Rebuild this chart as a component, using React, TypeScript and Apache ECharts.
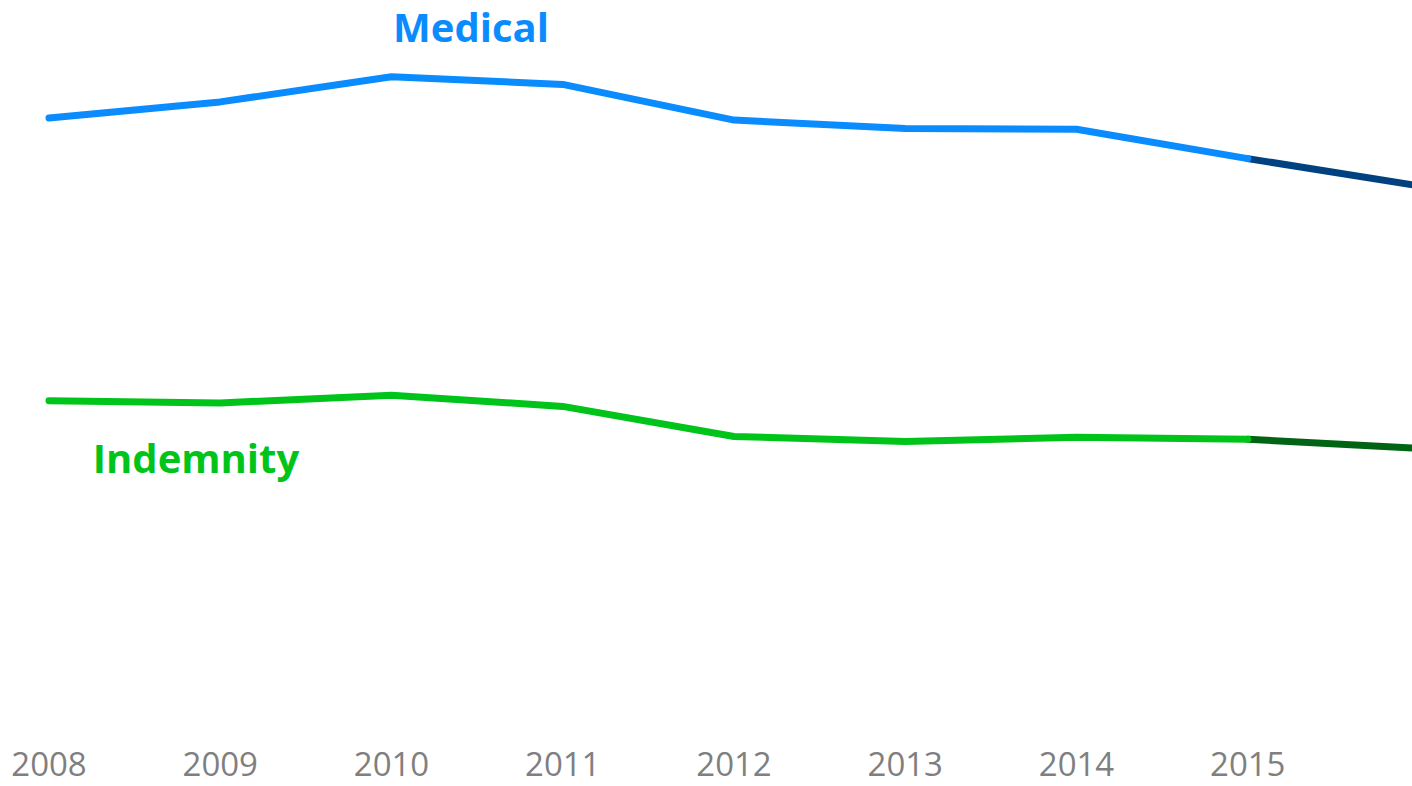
import React, { useEffect, useRef } from "react";
import * as echarts from "echarts";

const years = ["2008", "2009", "2010", "2011", "2012", "2013", "2014", "2015", "2016"];
const medicalActual = [86.0, 88.3, 91.9, 90.8, 85.7, 84.5, 84.4, 80.2, null];
const medicalProjected = [null, null, null, null, null, null, null, 80.2, 76.3];
const indemnityActual = [45.6, 45.3, 46.4, 44.8, 40.5, 39.8, 40.4, 40.1, null];
const indemnityProjected = [null, null, null, null, null, null, null, 40.1, 38.8];

export default function App() {
  const ref = useRef<HTMLDivElement>(null);
  useEffect(() => {
    if (!ref.current) return;
    const chart = echarts.init(ref.current, undefined, { renderer: "svg" });
    chart.setOption({
      animation: false,
      backgroundColor: "#ffffff",
      grid: { left: 49, width: 1370, top: 20, height: 700, outerBoundsMode: "none", containLabel: false },
      xAxis: {
        type: "category",
        data: years,
        boundaryGap: false,
        axisLine: { show: false },
        axisTick: { show: false },
        splitLine: { show: false },
        axisLabel: {
          interval: (i: number) => i < 8,
          color: "#7f7f7f",
          fontFamily: "Open Sans",
          fontSize: 33,
          margin: 27,
        },
      },
      yAxis: { type: "value", min: 0, max: 100, show: false },
      series: [
        {
          type: "line",
          data: medicalProjected,
          showSymbol: false,
          z: 1,
          lineStyle: { color: "#00427f", width: 7, cap: "round" },
        },
        {
          type: "line",
          data: medicalActual,
          showSymbol: false,
          z: 2,
          lineStyle: { color: "#0a8cff", width: 7, cap: "round", join: "round" },
        },
        {
          type: "line",
          data: indemnityProjected,
          showSymbol: false,
          z: 1,
          lineStyle: { color: "#006414", width: 7, cap: "round" },
        },
        {
          type: "line",
          data: indemnityActual,
          showSymbol: false,
          z: 2,
          lineStyle: { color: "#00c41a", width: 7, cap: "round", join: "round" },
        },
      ],
      graphic: [
        {
          type: "text",
          x: 471,
          y: 26,
          style: {
            text: "Medical",
            fill: "#0a8cff",
            font: "bold 40px 'Open Sans'",
            lineHeight: 40,
            textAlign: "center",
            textVerticalAlign: "middle",
          },
        },
        {
          type: "text",
          x: 196,
          y: 457,
          style: {
            text: "Indemnity",
            fill: "#00c41a",
            font: "bold 40px 'Open Sans'",
            lineHeight: 40,
            textAlign: "center",
            textVerticalAlign: "middle",
          },
        },
      ],
    });
    return () => chart.dispose();
  }, []);
  return (
    <div
      ref={ref}
      style={{ position: "absolute", left: 0, top: 0, width: 1412, height: 786 }}
    />
  );
}
